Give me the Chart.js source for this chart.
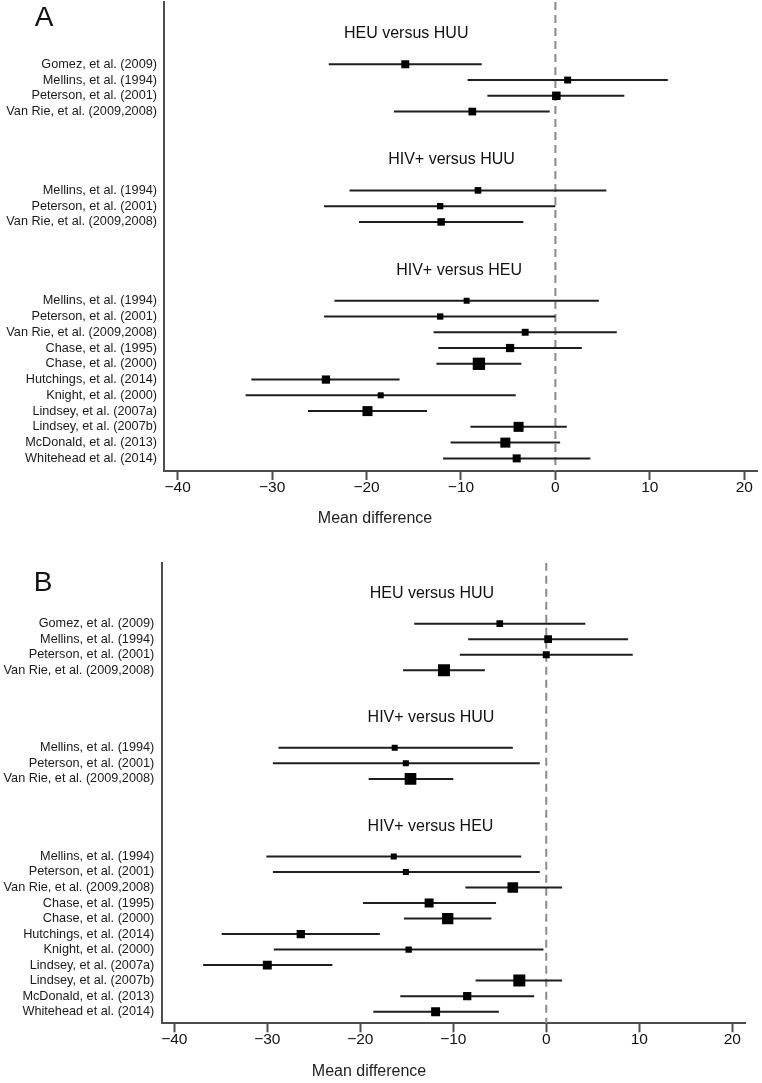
<!DOCTYPE html>
<html><head><meta charset="utf-8">
<script src="https://cdn.jsdelivr.net/npm/chart.js@4.4.1/dist/chart.umd.min.js"></script>
<style>
html,body{margin:0;padding:0;background:#fff;width:762px;height:1083px;overflow:hidden}
.panel{position:absolute;left:0;width:762px}
canvas{display:block}
</style></head><body>
<div class="panel" style="top:0;height:540px"><canvas id="chartA" width="762" height="540"></canvas></div>
<div class="panel" style="top:540px;height:543px"><canvas id="chartB" width="762" height="543"></canvas></div>
<script>
// ---------- data ----------
const panelLetters = ['A', 'B'];
const groupTitles = ['HEU versus HUU', 'HIV+ versus HUU', 'HIV+ versus HEU'];
const studiesHeuHuu = ['Gomez, et al. (2009)', 'Mellins, et al. (1994)', 'Peterson, et al. (2001)', 'Van Rie, et al. (2009,2008)'];
const studiesHivHuu = ['Mellins, et al. (1994)', 'Peterson, et al. (2001)', 'Van Rie, et al. (2009,2008)'];
const studiesHivHeu = ['Mellins, et al. (1994)', 'Peterson, et al. (2001)', 'Van Rie, et al. (2009,2008)',
  'Chase, et al. (1995)', 'Chase, et al. (2000)', 'Hutchings, et al. (2014)', 'Knight, et al. (2000)',
  'Lindsey, et al. (2007a)', 'Lindsey, et al. (2007b)', 'McDonald, et al. (2013)', 'Whitehead et al. (2014)'];
const xTickValues = [-40, -30, -20, -10, 0, 10, 20];
const xAxisTitle = 'Mean difference';

// Panel A
const aHeuHuuMean = [-15.9, 1.3, 0.1, -8.8];
const aHeuHuuLow = [-24.0, -9.3, -7.2, -17.1];
const aHeuHuuHigh = [-7.8, 11.9, 7.3, -0.6];
const aHeuHuuWeight = [16, 12, 18, 15];

const aHivHuuMean = [-8.2, -12.2, -12.1];
const aHivHuuLow = [-21.8, -24.5, -20.8];
const aHivHuuHigh = [5.4, 0.0, -3.4];
const aHivHuuWeight = [11, 10, 14];

const aHivHeuMean = [-9.4, -12.2, -3.2, -4.8, -8.1, -24.3, -18.5, -19.9, -3.9, -5.3, -4.1];
const aHivHeuLow = [-23.4, -24.5, -12.9, -12.4, -12.6, -32.2, -32.8, -26.2, -9.0, -11.1, -11.9];
const aHivHeuHigh = [4.6, 0.0, 6.5, 2.8, -3.6, -16.5, -4.2, -13.6, 1.2, 0.5, 3.7];
const aHivHeuWeight = [9, 10, 12, 17, 38, 17, 9, 25, 25, 25, 16];

// Panel B
const bHeuHuuMean = [-5.0, 0.2, 0.0, -11.0];
const bHeuHuuLow = [-14.2, -8.4, -9.3, -15.4];
const bHeuHuuHigh = [4.2, 8.8, 9.3, -6.6];
const bHeuHuuWeight = [11, 15, 12, 36];

const bHivHuuMean = [-16.3, -15.1, -14.6];
const bHivHuuLow = [-28.8, -29.4, -19.1];
const bHivHuuHigh = [-3.6, -0.7, -10.0];
const bHivHuuWeight = [9, 9, 34];

const bHivHeuMean = [-16.4, -15.1, -3.6, -12.6, -10.6, -26.4, -14.8, -30.0, -2.9, -8.5, -11.9];
const bHivHeuLow = [-30.1, -29.4, -8.7, -19.7, -15.3, -34.9, -29.3, -36.9, -7.6, -15.7, -18.6];
const bHivHeuHigh = [-2.7, -0.7, 1.7, -5.4, -5.9, -17.9, -0.3, -23.0, 1.7, -1.3, -5.1];
const bHivHeuWeight = [9, 9, 28, 20, 32, 17, 10, 20, 36, 17, 20];

// ---------- layout (positions / sizes / styles) ----------
const FONT = '"Liberation Sans", Arial, Helvetica, sans-serif';
const layoutA = {
  width: 762, height: 540,
  area: { left: 164, top: 2, right: 757, bottom: 471 },
  xMin: -41.45, xMax: 21.35, yMin: -3.95, yMax: 25.8,
  titleX: [-15.8, -11.0, -10.2], titleOffset: -1.93, groupGap: 4,
  axisTitleX: -19.1, axisTitleY: 519, letterPos: { x: 44, y: 18 }, labelPad: 7
};
const layoutB = {
  width: 762, height: 543,
  area: { left: 162.3, top: 22.7, right: 745, bottom: 483.3 },
  xMin: -41.29, xMax: 21.37, yMin: -3.93, yMax: 25.75,
  titleX: [-12.3, -12.4, -12.45], titleOffset: -1.93, groupGap: 4,
  axisTitleX: -19.06, axisTitleY: 532, letterPos: { x: 43, y: 43 }, labelPad: 8
};

function buildPanel(canvasId, letter, groups, L) {
  const labelByRow = {};
  const titles = [];
  const datasets = [];
  const pts = [];
  const radii = [];
  let start = 0;
  groups.forEach((g, gi) => {
    if (gi > 0) start += groups[gi - 1].studies.length + L.groupGap;
    titles.push({ text: g.title, row: start + L.titleOffset, x: L.titleX[gi] });
    g.studies.forEach((name, i) => {
      const r = start + i;
      labelByRow[r] = name;
      datasets.push({
        type: 'line', data: [{ x: g.low[i], y: r }, { x: g.high[i], y: r }],
        borderColor: '#1e1e1e', borderWidth: 2, pointRadius: 0, order: 2, borderCapStyle: 'butt'
      });
      pts.push({ x: g.mean[i], y: r });
      const side = 2 * Math.sqrt(g.weight[i]);
      radii.push(side / Math.SQRT2);
    });
  });
  const rowTicks = Object.keys(labelByRow).map(Number);

  // reference line at zero
  datasets.unshift({
    type: 'line', data: [{ x: 0, y: L.yMin }, { x: 0, y: L.yMax }],
    borderColor: '#8a8a8a', borderWidth: 2, borderDash: [8, 5], pointRadius: 0, order: 3
  });
  datasets.push({
    type: 'scatter', data: pts, pointStyle: 'rect', pointRadius: radii,
    backgroundColor: '#000', borderColor: '#000', borderWidth: 0, order: 1
  });

  const overlay = {
    id: 'overlay',
    afterDraw(chart) {
      const ctx = chart.ctx, xs = chart.scales.x, ys = chart.scales.y;
      ctx.save();
      ctx.fillStyle = '#111';
      ctx.textBaseline = 'middle';
      ctx.textAlign = 'center';
      ctx.font = '28px ' + FONT;
      ctx.fillText(letter, L.letterPos.x, L.letterPos.y);
      ctx.font = '16px ' + FONT;
      titles.forEach(t => ctx.fillText(t.text, xs.getPixelForValue(t.x), ys.getPixelForValue(t.row)));
      ctx.fillStyle = '#222';
      ctx.fillText(xAxisTitle, xs.getPixelForValue(L.axisTitleX), L.axisTitleY);
      ctx.restore();
    }
  };

  return new Chart(document.getElementById(canvasId), {
    type: 'scatter',
    data: { datasets },
    plugins: [overlay],
    options: {
      responsive: false, animation: false, events: [],
      layout: { autoPadding: false, padding: { left: 0, top: L.area.top, right: L.width - L.area.right, bottom: 0 } },
      plugins: { legend: { display: false }, tooltip: { enabled: false }, title: { display: false } },
      scales: {
        x: {
          type: 'linear', position: 'bottom', min: L.xMin, max: L.xMax,
          afterBuildTicks: s => { s.ticks = xTickValues.map(v => ({ value: v })); },
          afterFit: s => { s.height = L.height - L.area.bottom; s.paddingLeft = 0; s.paddingRight = 0; },
          grid: { drawOnChartArea: false, drawTicks: true, tickLength: 9, tickColor: '#4d4d4d', tickWidth: 2 },
          border: { display: true, color: '#4d4d4d', width: 2 },
          ticks: {
            padding: -2, color: '#111', font: { family: FONT, size: 15.5 }, maxRotation: 0, autoSkip: false,
            callback: v => (v < 0 ? '\u2212' + Math.abs(v) : String(v))
          }
        },
        y: {
          type: 'linear', position: 'left', reverse: true, min: L.yMin, max: L.yMax,
          afterBuildTicks: s => { s.ticks = rowTicks.map(v => ({ value: v })); },
          afterFit: s => { s.width = L.area.left; s.paddingTop = 0; s.paddingBottom = 0; },
          grid: { display: false, drawTicks: false },
          border: { display: true, color: '#4d4d4d', width: 2 },
          ticks: {
            padding: L.labelPad, color: '#1a1a1a', font: { family: FONT, size: 12.7 }, autoSkip: false,
            callback: v => labelByRow[v] || ''
          }
        }
      }
    }
  });
}

buildPanel('chartA', panelLetters[0], [
  { title: groupTitles[0], studies: studiesHeuHuu, mean: aHeuHuuMean, low: aHeuHuuLow, high: aHeuHuuHigh, weight: aHeuHuuWeight },
  { title: groupTitles[1], studies: studiesHivHuu, mean: aHivHuuMean, low: aHivHuuLow, high: aHivHuuHigh, weight: aHivHuuWeight },
  { title: groupTitles[2], studies: studiesHivHeu, mean: aHivHeuMean, low: aHivHeuLow, high: aHivHeuHigh, weight: aHivHeuWeight }
], layoutA);

buildPanel('chartB', panelLetters[1], [
  { title: groupTitles[0], studies: studiesHeuHuu, mean: bHeuHuuMean, low: bHeuHuuLow, high: bHeuHuuHigh, weight: bHeuHuuWeight },
  { title: groupTitles[1], studies: studiesHivHuu, mean: bHivHuuMean, low: bHivHuuLow, high: bHivHuuHigh, weight: bHivHuuWeight },
  { title: groupTitles[2], studies: studiesHivHeu, mean: bHivHeuMean, low: bHivHeuLow, high: bHivHeuHigh, weight: bHivHeuWeight }
], layoutB);
</script>
</body></html>
